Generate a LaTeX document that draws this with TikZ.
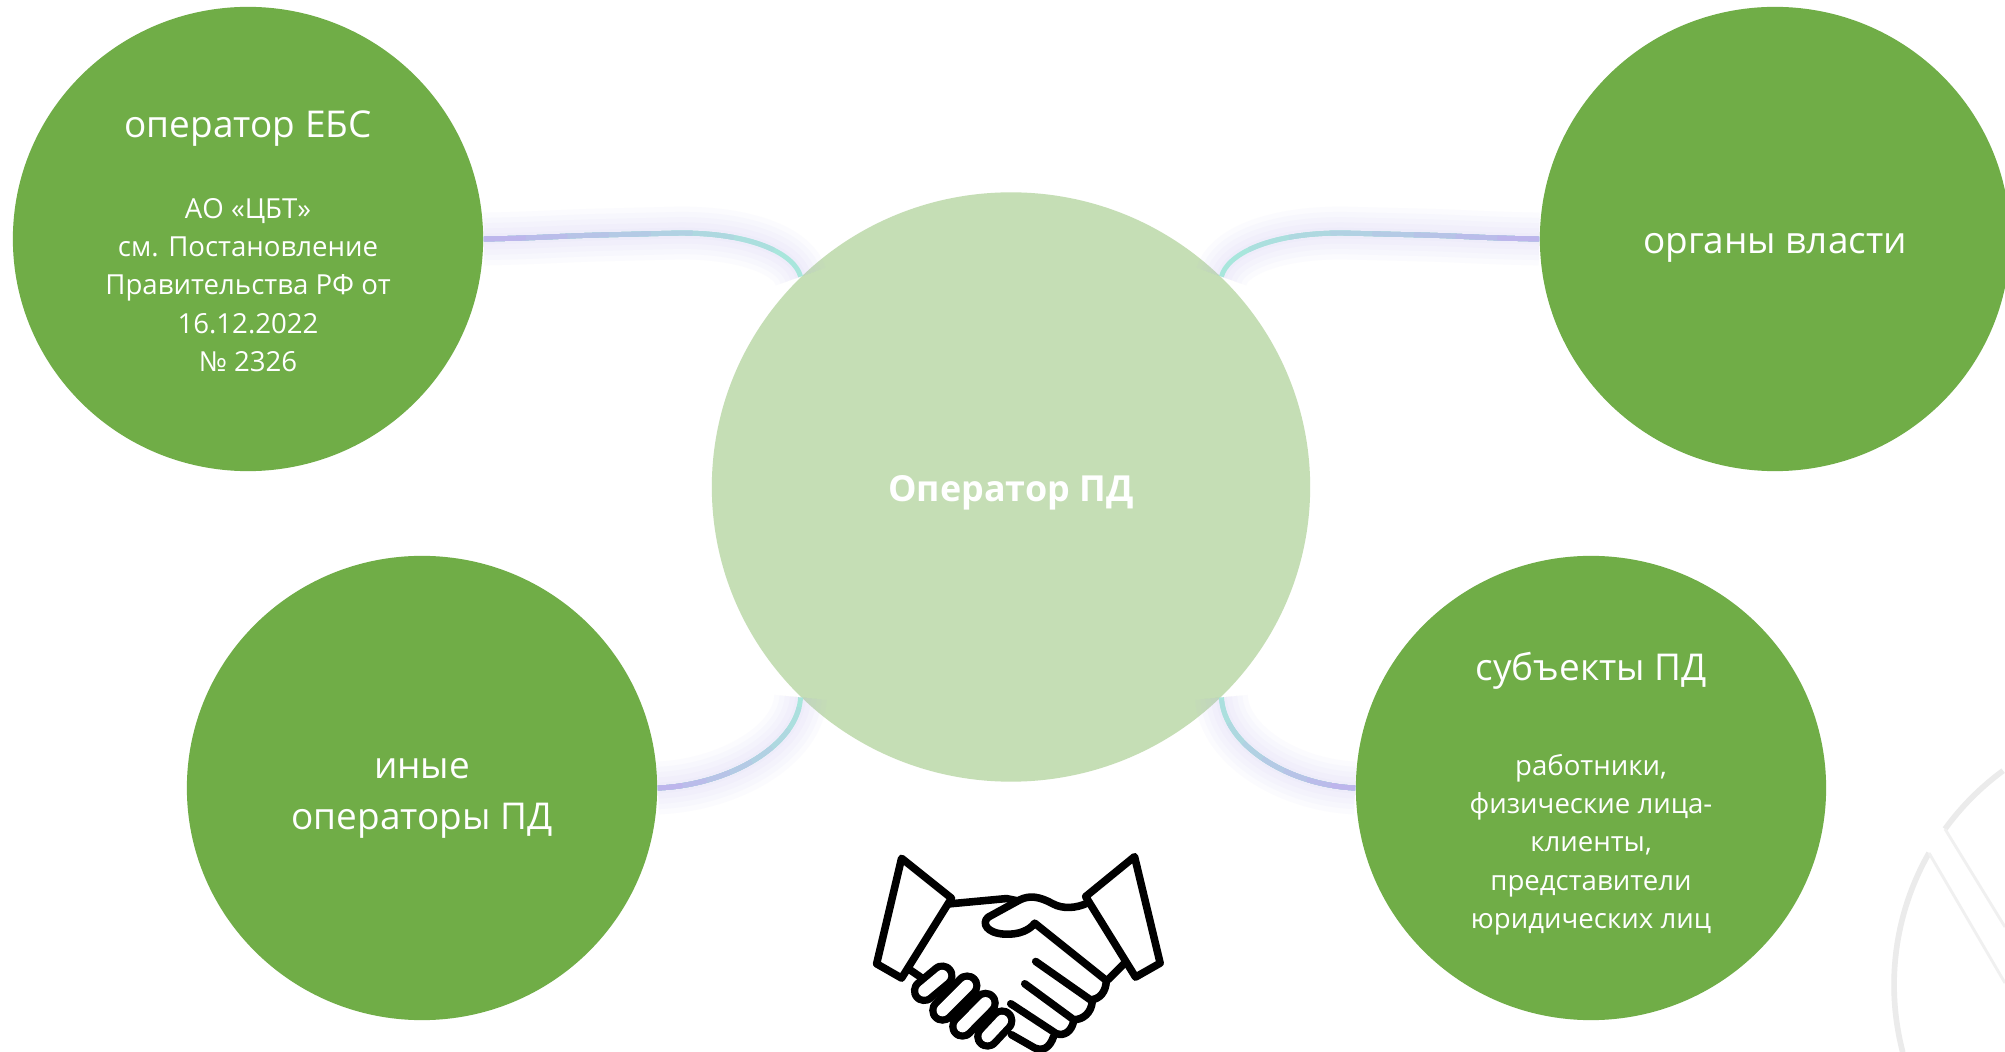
\documentclass[tikz,border=0pt]{standalone}
\usepackage{fontspec}
\setmainfont{Open Sans}
\usetikzlibrary{shapes.geometric}
\definecolor{grn}{HTML}{70AD47}
\definecolor{ltgrn}{HTML}{C5DEB5}
\definecolor{lnkA}{HTML}{BDB5EC}
\definecolor{lnkB}{HTML}{A8E6DC}
\newcommand\bigtxt{\fontsize{10.5}{14.5}\selectfont}
\newcommand\boldtxt{\fontsize{10.2}{14.5}\selectfont\bfseries}
\newcommand\smalltxt{\fontsize{7.85}{10.9}\selectfont}
\newcommand\dn[1]{\rule{0pt}{#1pt}}
\tikzset{
  greencirc/.style={ellipse,fill=grn,text=white,minimum width=4.7cm,minimum height=4.64cm,inner sep=0pt,align=center,font=\smalltxt},
  ghost/.style={draw=black!8,line width=1.6pt},
  icon/.style={line width=2.15pt,line join=round,line cap=round}
}
% #1 length of the curve in pt, #2 the curve
\newcommand\linkpath[2]{%
\foreach \w in {3,6,9,12,15}{\draw[line width=\w pt,lnkA,opacity=0.05] #2;}
\foreach \i in {8,7,...,1}{%
  \pgfmathsetmacro\d{#1*\i/8}
  \pgfmathtruncatemacro\p{100*(8-\i)/7}
  \draw[line width=1.4pt,color=lnkA!\p!lnkB,dash pattern=on \d pt off 100cm] #2;}}
\begin{document}
\begin{tikzpicture}[x=0.01cm,y=-0.01cm]
\useasboundingbox (0,0) rectangle (2005,1052);
\fill[white] (0,0) rectangle (2005,1052);
% ghost of a pie in the corner
\draw[ghost] (1929,853) arc[start angle=209.7,end angle=165.3,radius=266];
\draw[ghost,line width=0.8pt,draw=black!6] (1929,853) -- (2005,983);
\draw[ghost] (1945,829) arc[start angle=216,end angle=233.8,radius=266];
\draw[ghost,line width=0.8pt,draw=black!6] (1945,829) -- (2005,927);
% circles
\node[ellipse,fill=ltgrn,minimum width=5.98cm,minimum height=5.89cm,inner sep=0pt,text=white,font=\boldtxt] (oper) at (1011,487){\dn{10.8}Оператор ПД};
\node[greencirc] (ebs) at (248,239){%
{\bigtxt\dn{9}оператор ЕБС}\\[4.2mm]
АО «ЦБТ»\\
см. Постановление\\
Правительства РФ от\\
16.12.2022\\
№ 2326};
\node[greencirc,font=\bigtxt] (vlast) at (1775,239){\dn{11}органы власти};
\node[greencirc,font=\bigtxt] (inye) at (422,788){\dn{11.4}иные\\операторы ПД};
\node[greencirc] (subj) at (1591,788){%
{\bigtxt\dn{11.4}субъекты ПД}\\[5.6mm]
работники,\\
физические лица-\\
клиенты,\\
представители\\
юридических лиц};
% links
\linkpath{95}{(ebs.east) .. controls (540,238) and (560,236) .. (600,235) -- (680,233) .. controls (755,233) and (795,255) .. (oper.135)}
\linkpath{95}{(vlast.west) .. controls (1482,238) and (1462,236) .. (1422,235) -- (1342,233) .. controls (1267,233) and (1227,255) .. (oper.45)}
\linkpath{56}{(inye.east) .. controls (730,785) and (798,745) .. (oper.225)}
\linkpath{56}{(subj.west) .. controls (1288,785) and (1224,745) .. (oper.-45)}
% handshake
\begin{scope}[shift={(850,840)},x=0.00333cm,y=-0.00333cm,icon]
\draw (155,55) -- (305,175) -- (155,415) -- (80,372) -- cycle;
\draw (855,50) -- (708,170) -- (858,412) -- (932,370) -- cycle;
\draw (298,192) -- (470,176) -- (500,182);
\draw (712,190) .. controls (680,205) and (640,208) .. (610,192) .. controls (570,170) and (540,165) .. (510,180)
  -- (415,232) .. controls (395,250) and (410,280) .. (465,283) .. controls (510,285) and (540,270) .. (555,250) -- (770,422);
\draw (770,422) .. controls (770,455) and (750,480) .. (722,480) -- (558,365);
\draw (728,485) .. controls (725,520) and (700,540) .. (672,540) -- (525,432);
\draw (672,545) .. controls (665,575) and (645,590) .. (620,582) -- (483,492);
\draw (612,590) .. controls (600,625) and (580,635) .. (555,625) -- (485,585);
\draw (775,420) -- (825,370);
\draw (180,390) -- (212,412);
\foreach \xa/\ya/\xb/\yb in {223/453/277/408,278/512/352/438,338/560/407/490,413/590/457/543}
  \draw[line width=7.6pt] (\xa,\ya) -- (\xb,\yb);
\foreach \xa/\ya/\xb/\yb in {223/453/277/408,278/512/352/438,338/560/407/490,413/590/457/543}
  \draw[line width=3.4pt,white] (\xa,\ya) -- (\xb,\yb);
\end{scope}
\end{tikzpicture}
\end{document}
